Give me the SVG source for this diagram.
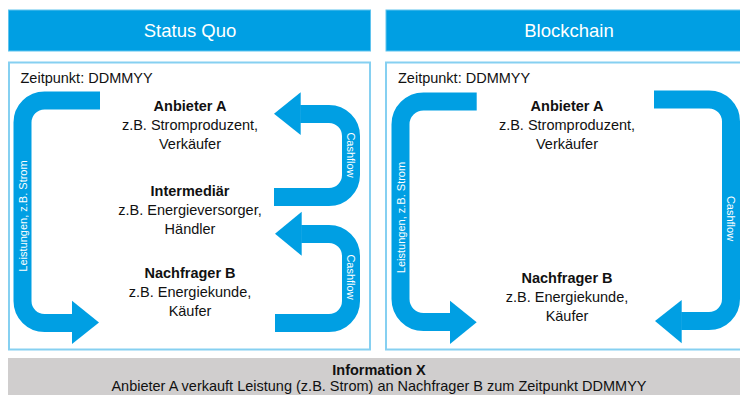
<svg xmlns="http://www.w3.org/2000/svg" width="740" height="395" viewBox="0 0 740 395">
  <style>
    .hdr { fill: #009FE3; stroke: #5FC3EE; stroke-width: 1; }
    .hdr-t { font-family: "Liberation Sans", Arial, sans-serif; font-size: 18.5px; fill: #ffffff; text-anchor: middle; }
    .panel { fill: #ffffff; stroke: #86D0F1; stroke-width: 2; }
    .stamp { font-family: "Liberation Sans", Arial, sans-serif; font-size: 14.5px; fill: #111111; }
    .lbl { font-family: "Liberation Sans", Arial, sans-serif; font-size: 14.5px; fill: #111111; text-anchor: middle; }
    .lbl .b { font-weight: bold; }
    .band { fill: none; stroke: #009FE3; stroke-width: 18; stroke-linecap: butt; stroke-linejoin: round; }
    .head { fill: #009FE3; }
    .flow-t { font-family: "Liberation Sans", Arial, sans-serif; font-size: 11px; fill: #ffffff; text-anchor: middle; dominant-baseline: central; }
    .info { fill: #D0CECE; }
    .info-t { font-family: "Liberation Sans", Arial, sans-serif; font-size: 14.5px; fill: #111111; text-anchor: middle; }
  </style>

  <!-- column headers -->
  <g id="header-status-quo">
    <rect class="hdr" x="8.5" y="10" width="362" height="41"/>
    <text class="hdr-t" x="190" y="37">Status Quo</text>
  </g>
  <g id="header-blockchain">
    <rect class="hdr" x="386" y="10" width="370" height="41"/>
    <text class="hdr-t" x="569" y="37">Blockchain</text>
  </g>

  <!-- panels -->
  <g id="panel-status-quo">
    <rect class="panel" x="9" y="62.5" width="361" height="287"/>
    <text class="stamp" x="20.5" y="83">Zeitpunkt: DDMMYY</text>
  </g>
  <g id="panel-blockchain">
    <rect class="panel" x="386" y="62.5" width="370" height="287"/>
    <text class="stamp" x="398" y="83">Zeitpunkt: DDMMYY</text>
  </g>

  <!-- Status Quo actors -->
  <g id="sq-anbieter">
    <text class="lbl" x="190" y="111"><tspan class="b">Anbieter A</tspan><tspan x="190" dy="19">z.B. Stromproduzent,</tspan><tspan x="190" dy="19">Verkäufer</tspan></text>
  </g>
  <g id="sq-intermediaer">
    <text class="lbl" x="190" y="195.5"><tspan class="b">Intermediär</tspan><tspan x="190" dy="19">z.B. Energieversorger,</tspan><tspan x="190" dy="19">Händler</tspan></text>
  </g>
  <g id="sq-nachfrager">
    <text class="lbl" x="190" y="278"><tspan class="b">Nachfrager B</tspan><tspan x="190" dy="19">z.B. Energiekunde,</tspan><tspan x="190" dy="19">Käufer</tspan></text>
  </g>

  <!-- Blockchain actors -->
  <g id="bc-anbieter">
    <text class="lbl" x="567" y="111"><tspan class="b">Anbieter A</tspan><tspan x="567" dy="19">z.B. Stromproduzent,</tspan><tspan x="567" dy="19">Verkäufer</tspan></text>
  </g>
  <g id="bc-nachfrager">
    <text class="lbl" x="567" y="283"><tspan class="b">Nachfrager B</tspan><tspan x="567" dy="19">z.B. Energiekunde,</tspan><tspan x="567" dy="19">Käufer</tspan></text>
  </g>

  <!-- flow arrows -->
  <g id="connectors">
    <!-- Status Quo: services A -> B -->
    <path class="band" d="M100 100.5 H44.5 A22 22 0 0 0 22.5 122.5 V301 A22 22 0 0 0 44.5 323 H72.5"/>
    <polygon class="head" points="72,300.7 99,322.5 72,344"/>
    <text class="flow-t" transform="translate(22.5 216) rotate(-90)">Leistungen, z.B. Strom</text>

    <!-- Status Quo: cash Intermediär -> A -->
    <path class="band" d="M300.2 114 H329 A22 22 0 0 1 351 136 V175 A22 22 0 0 1 329 197 H274"/>
    <polygon class="head" points="300.7,92.3 274,113.7 300.7,135"/>
    <text class="flow-t" transform="translate(351 155) rotate(90)">Cashflow</text>

    <!-- Status Quo: cash B -> Intermediär -->
    <path class="band" d="M301.2 234 H329 A22 22 0 0 1 351 256 V301 A22 22 0 0 1 329 323 H275"/>
    <polygon class="head" points="301.7,211.7 275,233.8 301.7,255.7"/>
    <text class="flow-t" transform="translate(351 277) rotate(90)">Cashflow</text>

    <!-- Blockchain: services A -> B -->
    <path class="band" d="M476.7 101.5 H423.5 A23 23 0 0 0 400.5 124.5 V299 A23 23 0 0 0 423.5 322 H450.5"/>
    <polygon class="head" points="450,300.7 476.7,322.2 450,344"/>
    <text class="flow-t" transform="translate(400.5 217.5) rotate(-90)">Leistungen, z.B. Strom</text>

    <!-- Blockchain: cash B -> A -->
    <path class="band" d="M654 99.5 H709 A22 22 0 0 1 731 121.5 V299 A22 22 0 0 1 709 321 H681.2"/>
    <polygon class="head" points="681.7,300 655,321 681.7,343.3"/>
    <text class="flow-t" transform="translate(731 218.5) rotate(90)">Cashflow</text>
  </g>

  <!-- transaction record -->
  <g id="information-x">
    <rect class="info" x="8" y="358" width="752" height="40"/>
    <text class="info-t" x="379" y="375" font-weight="bold">Information X</text>
    <text class="info-t" x="379" y="391">Anbieter A verkauft Leistung (z.B. Strom) an Nachfrager B zum Zeitpunkt DDMMYY</text>
  </g>
</svg>
